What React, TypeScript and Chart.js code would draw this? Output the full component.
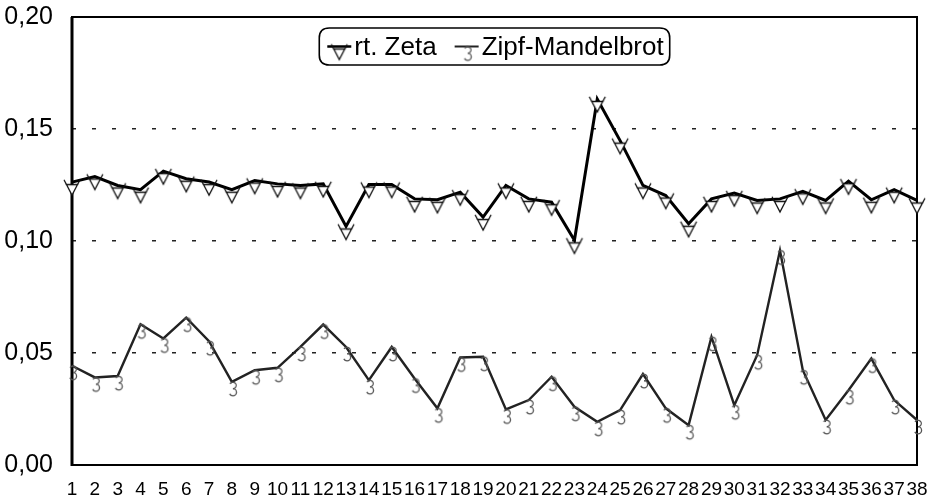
import React, { useEffect, useRef } from 'react';
import { Chart, registerables } from 'chart.js';

Chart.register(...registerables);

const categories = ['1', '2', '3', '4', '5', '6', '7', '8', '9', '10', '11', '12', '13', '14', '15', '16', '17', '18', '19', '20', '21', '22', '23', '24', '25', '26', '27', '28', '29', '30', '31', '32', '33', '34', '35', '36', '37', '38'];

const zetaLabel = 'rt. Zeta';
const zetaValues = [0.1263, 0.1288, 0.1248, 0.1229, 0.1312, 0.1278, 0.1263, 0.1229, 0.1270, 0.1255, 0.1248, 0.1255, 0.1065, 0.1252, 0.1252, 0.1188, 0.1184, 0.1218, 0.1107, 0.1248, 0.1188, 0.1173, 0.1003, 0.1634, 0.1448, 0.1248, 0.1203, 0.1077, 0.1188, 0.1214, 0.1181, 0.1188, 0.1222, 0.1181, 0.1267, 0.1184, 0.1229, 0.1181];

const zipfLabel = 'Zipf-Mandelbrot';
const zipfValues = [0.0443, 0.0391, 0.0397, 0.0628, 0.0565, 0.0658, 0.0553, 0.0371, 0.0423, 0.0434, 0.0527, 0.0627, 0.0527, 0.0379, 0.0527, 0.0386, 0.0253, 0.0480, 0.0483, 0.0248, 0.0290, 0.0394, 0.0260, 0.0193, 0.0245, 0.0406, 0.0253, 0.0178, 0.0572, 0.0267, 0.0490, 0.0958, 0.0423, 0.0201, 0.0334, 0.0475, 0.0290, 0.0201];

const yMin = 0;
const yMax = 0.2;
const yStep = 0.05;

const FONT = '"Liberation Sans", Arial, Helvetica, sans-serif';

function makeTriangleMarker(): HTMLCanvasElement {
  const c = document.createElement('canvas');
  c.width = 20;
  c.height = 36;
  const g = c.getContext('2d')!;
  const cx = 10;
  const cy = 18;
  const topY = cy + 2.5;
  const apexY = cy + 13;
  const half = 5.5;
  g.beginPath();
  g.moveTo(cx - half, topY);
  g.lineTo(cx + half, topY);
  g.lineTo(cx, apexY);
  g.closePath();
  g.fillStyle = '#ffffff';
  g.fill();
  g.lineWidth = 1.3;
  g.strokeStyle = '#111';
  g.stroke();
  const ext = 0.45;
  g.beginPath();
  g.moveTo(cx - half, topY);
  g.lineTo(cx - half - half * ext, topY - (apexY - topY) * ext);
  g.moveTo(cx + half, topY);
  g.lineTo(cx + half + half * ext, topY - (apexY - topY) * ext);
  g.stroke();
  return c;
}

function makeHookMarker(): HTMLCanvasElement {
  const c = document.createElement('canvas');
  c.width = 16;
  c.height = 32;
  const g = c.getContext('2d')!;
  const cx = 9;
  const cy = 16;
  g.strokeStyle = '#555';
  g.lineWidth = 1.3;
  g.beginPath();
  g.arc(cx, cy + 3.5, 3.3, -Math.PI * 0.85, Math.PI * 0.5);
  g.stroke();
  g.beginPath();
  g.arc(cx, cy + 10.2, 3.6, -Math.PI * 0.5, Math.PI * 0.85);
  g.stroke();
  return c;
}

export default function App() {
  const ref = useRef<HTMLCanvasElement | null>(null);

  useEffect(() => {
    if (!ref.current) return;
    const triMarker = makeTriangleMarker();
    const hookMarker = makeHookMarker();
    const markers = [triMarker, hookMarker];

    const framePlugin = {
      id: 'frame',
      beforeDatasetsDraw(chart: any) {
        const { ctx, chartArea } = chart;
        ctx.save();
        ctx.strokeStyle = '#000';
        ctx.lineWidth = 2;
        ctx.strokeRect(chartArea.left, chartArea.top, chartArea.right - chartArea.left, chartArea.bottom - chartArea.top);
        ctx.lineWidth = 3;
        ctx.beginPath();
        ctx.moveTo(chartArea.left, chartArea.top);
        ctx.lineTo(chartArea.left, chartArea.bottom + 1);
        ctx.stroke();
        ctx.restore();
      },
    };

    const legendPlugin = {
      id: 'boxLegend',
      afterDatasetsDraw(chart: any) {
        const { ctx, chartArea } = chart;
        const ds = chart.data.datasets;
        ctx.save();
        ctx.font = '26px ' + FONT;
        const lineLen = 24;
        const gapLT = 3;
        const itemGap = 18;
        const padL = 8;
        const padR = 6;
        const widths = ds.map((d: any) => ctx.measureText(d.label).width);
        let total = padL + padR + itemGap * (ds.length - 1);
        widths.forEach((w: number) => { total += lineLen + gapLT + w; });
        const h = 37;
        const left = (chartArea.left + chartArea.right) / 2 - total / 2;
        const top = chartArea.top + 11;
        const r = 10;
        ctx.beginPath();
        ctx.moveTo(left + r, top);
        ctx.lineTo(left + total - r, top);
        ctx.quadraticCurveTo(left + total, top, left + total, top + r);
        ctx.lineTo(left + total, top + h - r);
        ctx.quadraticCurveTo(left + total, top + h, left + total - r, top + h);
        ctx.lineTo(left + r, top + h);
        ctx.quadraticCurveTo(left, top + h, left, top + h - r);
        ctx.lineTo(left, top + r);
        ctx.quadraticCurveTo(left, top, left + r, top);
        ctx.closePath();
        ctx.fillStyle = '#fff';
        ctx.fill();
        ctx.lineWidth = 1.6;
        ctx.strokeStyle = '#000';
        ctx.stroke();
        let x = left + padL;
        const cy = top + h / 2;
        ds.forEach((d: any, i: number) => {
          ctx.beginPath();
          ctx.moveTo(x, cy);
          ctx.lineTo(x + lineLen, cy);
          ctx.lineWidth = i === 0 ? 2.5 : 2;
          ctx.strokeStyle = d.borderColor;
          ctx.stroke();
          const m = markers[i];
          ctx.drawImage(m, x + lineLen / 2 - m.width / 2, cy - m.height / 2);
          ctx.fillStyle = '#000';
          ctx.textBaseline = 'middle';
          ctx.textAlign = 'left';
          ctx.fillText(d.label, x + lineLen + gapLT, cy + 1);
          x += lineLen + gapLT + widths[i] + itemGap;
        });
        ctx.restore();
      },
    };

    const isEdge = (v: number) => Math.abs(v - yMin) < 1e-9 || Math.abs(v - yMax) < 1e-9;

    const chart = new Chart(ref.current, {
      type: 'line',
      data: {
        labels: categories,
        datasets: [
          {
            label: zetaLabel,
            data: zetaValues,
            borderColor: '#000',
            borderWidth: 3,
            pointStyle: triMarker as any,
            pointRadius: 8,
            tension: 0,
            clip: false as any,
          },
          {
            label: zipfLabel,
            data: zipfValues,
            borderColor: '#222',
            borderWidth: 2.4,
            pointStyle: hookMarker as any,
            pointRadius: 8,
            tension: 0,
            clip: false as any,
          },
        ],
      },
      options: {
        animation: false,
        responsive: true,
        maintainAspectRatio: false,
        layout: { autoPadding: false, padding: { top: 17, right: 16, left: 0, bottom: 0 } },
        plugins: {
          legend: { display: false },
          tooltip: { enabled: false },
        },
        scales: {
          x: {
            offset: false,
            grid: { display: false, drawTicks: false },
            border: { display: false },
            ticks: {
              color: '#000',
              font: { family: FONT, size: 19, lineHeight: 1 },
              padding: 15,
              maxRotation: 0,
              minRotation: 0,
              autoSkip: false,
            },
            afterFit(scale: any) {
              scale.height = 33;
              scale.paddingLeft = 0;
              scale.paddingRight = 0;
            },
          },
          y: {
            min: yMin,
            max: yMax,
            grid: {
              drawTicks: false,
              lineWidth: 1.5,
              color: (c: any) => (isEdge(c.tick.value) ? 'rgba(0,0,0,0)' : '#222'),
            },
            border: { display: false, dash: [4, 16] },
            ticks: {
              stepSize: yStep,
              color: '#000',
              font: { family: FONT, size: 25 },
              padding: 19,
              callback: (v: any) => Number(v).toFixed(2).replace('.', ','),
            },
            afterFit(scale: any) {
              scale.width = 72;
              scale.paddingTop = 0;
              scale.paddingBottom = 0;
            },
          },
        },
      },
      plugins: [framePlugin, legendPlugin],
    });
    return () => chart.destroy();
  }, []);

  return (
    <div style={{ position: 'fixed', left: 0, top: 0, width: 933, height: 498, background: '#fff' }}>
      <canvas ref={ref} />
    </div>
  );
}
